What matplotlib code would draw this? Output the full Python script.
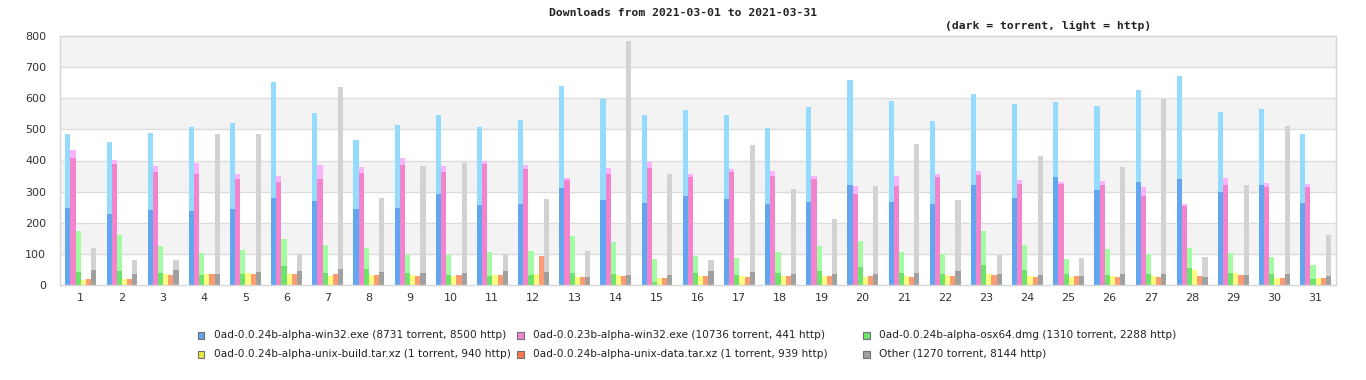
import matplotlib
matplotlib.use("Agg")
import matplotlib.pyplot as plt
import numpy as np
from matplotlib.patches import Rectangle

days = list(range(1, 32))

labels = [
    "0ad-0.0.24b-alpha-win32.exe (8731 torrent, 8500 http)",
    "0ad-0.0.23b-alpha-win32.exe (10736 torrent, 441 http)",
    "0ad-0.0.24b-alpha-osx64.dmg (1310 torrent, 2288 http)",
    "0ad-0.0.24b-alpha-unix-build.tar.xz (1 torrent, 940 http)",
    "0ad-0.0.24b-alpha-unix-data.tar.xz (1 torrent, 939 http)",
    "Other (1270 torrent, 8144 http)",
]

win32_24_torrent = [247, 228, 241, 238, 244, 280, 270, 244, 247, 292, 257, 260, 312, 273, 263, 286,
                    276, 260, 267, 321, 267, 260, 321, 280, 347, 305, 331, 341, 299, 321, 263]
win32_24_http = [238, 231, 247, 270, 276, 372, 283, 222, 267, 254, 251, 270, 327, 325, 283, 276,
                 270, 244, 305, 338, 324, 267, 293, 302, 241, 270, 296, 331, 257, 244, 222]

win32_23_torrent = [408, 389, 363, 357, 341, 331, 341, 360, 386, 363, 389, 373, 337, 357, 376, 347,
                    363, 350, 341, 292, 318, 347, 353, 325, 325, 321, 286, 254, 321, 315, 315]
win32_23_http = [26, 13, 19, 35, 16, 19, 45, 19, 22, 19, 9, 13, 7, 19, 19, 10,
                 10, 16, 9, 26, 32, 10, 13, 12, 6, 13, 29, 6, 23, 13, 10]

osx_torrent = [42, 45, 39, 32, 35, 61, 39, 51, 39, 32, 29, 32, 39, 35, 10, 39,
               32, 39, 45, 58, 39, 35, 64, 48, 35, 32, 35, 55, 39, 35, 19]
osx_http = [131, 116, 86, 71, 77, 87, 90, 68, 57, 64, 77, 77, 118, 103, 74, 54,
            55, 67, 80, 83, 67, 65, 109, 81, 49, 84, 65, 64, 64, 55, 45]

build_torrent = [0] * 27 + [1, 0, 0, 0]
build_http = [17, 19, 35, 35, 39, 35, 29, 32, 32, 29, 32, 35, 26, 32, 22, 29,
              29, 29, 29, 26, 29, 32, 35, 29, 26, 29, 29, 47, 39, 22, 22]

data_torrent = [0] * 11 + [1] + [0] * 19
data_http = [19, 19, 32, 35, 35, 35, 35, 32, 29, 32, 32, 92, 26, 29, 22, 29,
             26, 29, 29, 29, 26, 29, 32, 26, 29, 26, 26, 29, 32, 22, 22]

other_torrent = [48, 35, 48, 35, 42, 45, 51, 42, 39, 39, 45, 42, 26, 32, 32, 45,
                 42, 35, 35, 35, 39, 45, 35, 32, 29, 35, 35, 26, 32, 35, 29]
other_http = [71, 45, 32, 450, 443, 55, 585, 238, 343, 353, 55, 234, 83, 752, 325, 35,
              408, 273, 177, 283, 414, 228, 61, 382, 58, 344, 563, 64, 289, 476, 132]

series = [
    (win32_24_torrent, win32_24_http, "#62a6f0", "#94dbfe"),
    (win32_23_torrent, win32_23_http, "#f283cc", "#fbb3fc"),
    (osx_torrent, osx_http, "#6ce46c", "#a2fca2"),
    (build_torrent, build_http, "#e8e840", "#fcfc80"),
    (data_torrent, data_http, "#f87850", "#fc9c70"),
    (other_torrent, other_http, "#a0a0a0", "#d2d2d2"),
]

W, H = 1366, 380
fig = plt.figure(figsize=(W / 100, H / 100), dpi=100)
ax = fig.add_axes([60 / W, 1 - 285 / H, 1276 / W, 249 / H])

# alternating background bands
for lo in range(0, 800, 100):
    if (lo // 100) % 2 == 1:
        ax.axhspan(lo, lo + 100, color="#f3f3f3", zorder=0, lw=0)
for y in range(100, 800, 100):
    ax.axhline(y, color="#dcdcdc", lw=1, zorder=1)

x = np.arange(len(days))
bw = 0.125
start = -0.37
for i, (tor, http, dark, light) in enumerate(series):
    pos = x + start + i * bw + bw / 2
    tor = np.array(tor)
    ax.bar(pos, tor, width=bw, color=dark, lw=0, zorder=2)
    ax.bar(pos, http, width=bw, bottom=tor, color=light, lw=0, zorder=2)

ax.set_xlim(-0.5, len(days) - 0.5)
ax.set_ylim(0, 800)
ax.set_xticks(x)
ax.set_xticklabels([str(d) for d in days])
ax.set_yticks(range(0, 801, 100))
ax.tick_params(axis="both", length=0, labelsize=8, colors="#333333")
ax.tick_params(axis="x", pad=6)
ax.tick_params(axis="y", pad=10)
for s in ax.spines.values():
    s.set_color("#d6d6d6")
    s.set_linewidth(1)

fig.text(683 / W, 1 - 13 / H, "Downloads from 2021-03-01 to 2021-03-31",
         ha="center", va="center", family="DejaVu Sans Mono", weight="bold",
         fontsize=8.2, color="#222222")
fig.text(1048 / W, 1 - 26 / H, "(dark = torrent, light = http)",
         ha="center", va="center", family="DejaVu Sans Mono", weight="bold",
         fontsize=8.2, color="#222222")

# legend laid out by hand: 3 columns, 2 rows
col_x = [201, 520, 866]
row_y = [335, 354]
for i, lab in enumerate(labels):
    cx = col_x[i % 3]
    cy = row_y[i // 3]
    fig.patches.append(Rectangle(((cx - 3.5) / W, 1 - (cy + 3.5) / H), 7 / W, 7 / H,
                                 transform=fig.transFigure, facecolor=series[i][2],
                                 edgecolor="#707070", lw=0.8))
    fig.text((cx + 13) / W, 1 - cy / H, lab, ha="left", va="center",
             fontsize=7.6, color="#222222")

fig.savefig("out.png", dpi=100)
